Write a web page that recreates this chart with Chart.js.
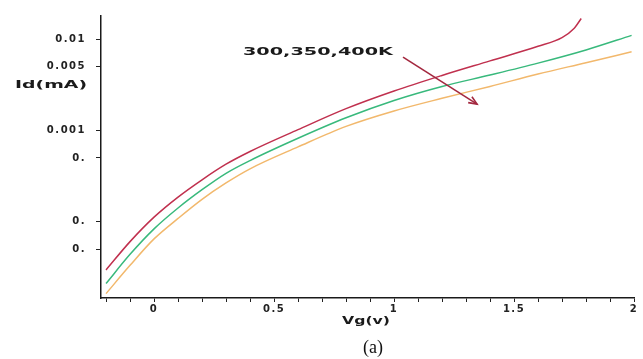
<!DOCTYPE html>
<html><head><meta charset="utf-8">
<script src="https://cdn.jsdelivr.net/npm/chart.js@4/dist/chart.umd.min.js"></script>
<style>html,body{margin:0;padding:0;background:#fff}#wrap{width:643px;height:359px;position:relative}</style>
</head><body><div id="wrap"><canvas id="c" width="643" height="359"></canvas></div>
<script>
// ---- data ----
const vg300 = [-0.2, -0.1, 0, 0.1, 0.2, 0.3, 0.4, 0.6, 0.8, 1.0, 1.2, 1.4, 1.6, 1.7, 1.75, 1.78];
const id300 = [2.95e-5, 6.03e-5, 1.12e-4, 1.86e-4, 2.88e-4, 4.27e-4, 5.89e-4, 1.023e-3, 1.74e-3, 2.72e-3, 4.03e-3, 5.82e-3, 8.41e-3, 1.047e-2, 1.318e-2, 1.70e-2];
const vg350 = [-0.2, -0.1, 0, 0.1, 0.2, 0.3, 0.4, 0.6, 0.8, 1.0, 1.2, 1.4, 1.6, 1.8, 1.99];
const id350 = [2.09e-5, 4.37e-5, 8.32e-5, 1.41e-4, 2.24e-4, 3.39e-4, 4.68e-4, 8.22e-4, 1.38e-3, 2.14e-3, 3.05e-3, 4.07e-3, 5.50e-3, 7.67e-3, 1.109e-2];
const vg400 = [-0.2, -0.1, 0, 0.1, 0.2, 0.3, 0.4, 0.6, 0.8, 1.0, 1.2, 1.4, 1.6, 1.8, 1.99];
const id400 = [1.62e-5, 3.31e-5, 6.46e-5, 1.084e-4, 1.758e-4, 2.66e-4, 3.80e-4, 6.61e-4, 1.11e-3, 1.64e-3, 2.26e-3, 3.05e-3, 4.17e-3, 5.56e-3, 7.33e-3];
const yTickValues = [0.01, 0.005, 0.001, 0.0005, 0.0001, 0.00005];
const yTickLabels = ["0.01", "0.005", "0.001", "0.", "0.", "0."];
const xTickValues = [0, 0.5, 1, 1.5, 2];
const xTickLabels = ["0", "0.5", "1", "1.5", "2"];
const xMinorStep = 0.1;
const annotationText = "300,350,400K";
const annotationAt = [0.683, 7.25e-3];
const arrowFrom = [1.0375, 6.4e-3];
const arrowTo = [1.346, 1.95e-3];
const yTitle = "Id(mA)";
const xTitle = "Vg(v)";
const caption = "(a)";

const toPts = (xs, ys) => xs.map((x, i) => ({x: x, y: ys[i]}));

function stretchText(ctx, text, cx, cy, font, width) {
  ctx.save();
  ctx.font = font;
  ctx.letterSpacing = '0px';
  const w = ctx.measureText(text).width;
  ctx.translate(cx, cy);
  ctx.scale(width / w, 1);
  ctx.textAlign = 'center';
  ctx.textBaseline = 'middle';
  ctx.fillStyle = '#1a1a1a';
  ctx.fillText(text, 0, 0);
  ctx.restore();
}

const spacingPlugin = {
  id: 'spacing',
  beforeLayout(chart) { chart.ctx.letterSpacing = '1.5px'; },
  beforeDraw(chart) { chart.ctx.letterSpacing = '1.5px'; }
};

const annotPlugin = {
  id: 'annot',
  afterDraw(chart) {
    const ctx = chart.ctx;
    const xs = chart.scales.x, ys = chart.scales.y;
    ctx.save();
    ctx.letterSpacing = '0px';
    stretchText(ctx, yTitle, 51, 85, 'bold 10px "DejaVu Sans"', 72);
    stretchText(ctx, xTitle, 366, 321, 'bold 10px "DejaVu Sans"', 48);
    stretchText(ctx, annotationText, xs.getPixelForValue(annotationAt[0]), ys.getPixelForValue(annotationAt[1]), 'bold 11px "DejaVu Sans"', 150);
    const x1 = xs.getPixelForValue(arrowFrom[0]), y1 = ys.getPixelForValue(arrowFrom[1]);
    const x2 = xs.getPixelForValue(arrowTo[0]), y2 = ys.getPixelForValue(arrowTo[1]);
    ctx.strokeStyle = '#a3283f';
    ctx.lineWidth = 1.6;
    ctx.beginPath(); ctx.moveTo(x1, y1); ctx.lineTo(x2, y2); ctx.stroke();
    const ang = Math.atan2(y2 - y1, x2 - x1);
    const hl = 9;
    ctx.beginPath();
    ctx.moveTo(x2 - hl * Math.cos(ang - 0.4), y2 - hl * Math.sin(ang - 0.4));
    ctx.lineTo(x2, y2);
    ctx.lineTo(x2 - hl * Math.cos(ang + 0.4), y2 - hl * Math.sin(ang + 0.4));
    ctx.stroke();
    ctx.font = '18px "Liberation Serif"';
    ctx.fillStyle = '#111';
    ctx.textAlign = 'center';
    ctx.textBaseline = 'middle';
    ctx.fillText(caption, 373, 348);
    ctx.restore();
  }
};

new Chart(document.getElementById('c'), {
  type: 'line',
  data: {
    datasets: [
      {label: '300K', data: toPts(vg300, id300), borderColor: '#c0304e', borderWidth: 1.5},
      {label: '350K', data: toPts(vg350, id350), borderColor: '#38b97c', borderWidth: 1.5},
      {label: '400K', data: toPts(vg400, id400), borderColor: '#f2b86c', borderWidth: 1.5}
    ]
  },
  options: {
    responsive: false,
    animation: false,
    devicePixelRatio: 1,
    elements: {point: {radius: 0}, line: {cubicInterpolationMode: 'monotone', fill: false}},
    layout: {padding: {top: 10, right: 9, left: 0, bottom: 0}},
    plugins: {legend: {display: false}, tooltip: {enabled: false}},
    scales: {
      x: {
        type: 'linear',
        min: -0.221, max: 2,
        afterBuildTicks(scale) {
          const t = [];
          for (let k = -2; k <= 20; k++) t.push({value: k * xMinorStep});
          scale.ticks = t;
        },
        afterFit(scale) { scale.height = 61; },
        ticks: {
          autoSkip: false, maxRotation: 0, padding: 1,
          color: '#222',
          font: {family: '"DejaVu Sans"', size: 10, weight: 'bold'},
          callback(v) {
            const i = xTickValues.findIndex(t => Math.abs(t - v) < 1e-6);
            return i >= 0 ? xTickLabels[i] : '';
          }
        },
        grid: {drawOnChartArea: false, drawTicks: true, tickLength: 4, color: '#222', lineWidth: 1},
        border: {display: true, color: '#1a1a1a', width: 1.5}
      },
      y: {
        type: 'logarithmic',
        min: 1.45e-5, max: 0.0181,
        afterBuildTicks(scale) { scale.ticks = yTickValues.map(v => ({value: v})); },
        afterFit(scale) { scale.width = 101; },
        ticks: {
          autoSkip: false, padding: 10,
          color: '#222',
          font: {family: '"DejaVu Sans"', size: 10, weight: 'bold'},
          callback(v, i) { return yTickLabels[i]; }
        },
        grid: {drawOnChartArea: false, drawTicks: true, tickLength: 5, color: '#222', lineWidth: 1},
        border: {display: true, color: '#1a1a1a', width: 1.5}
      }
    }
  },
  plugins: [spacingPlugin, annotPlugin]
});
</script></body></html>
